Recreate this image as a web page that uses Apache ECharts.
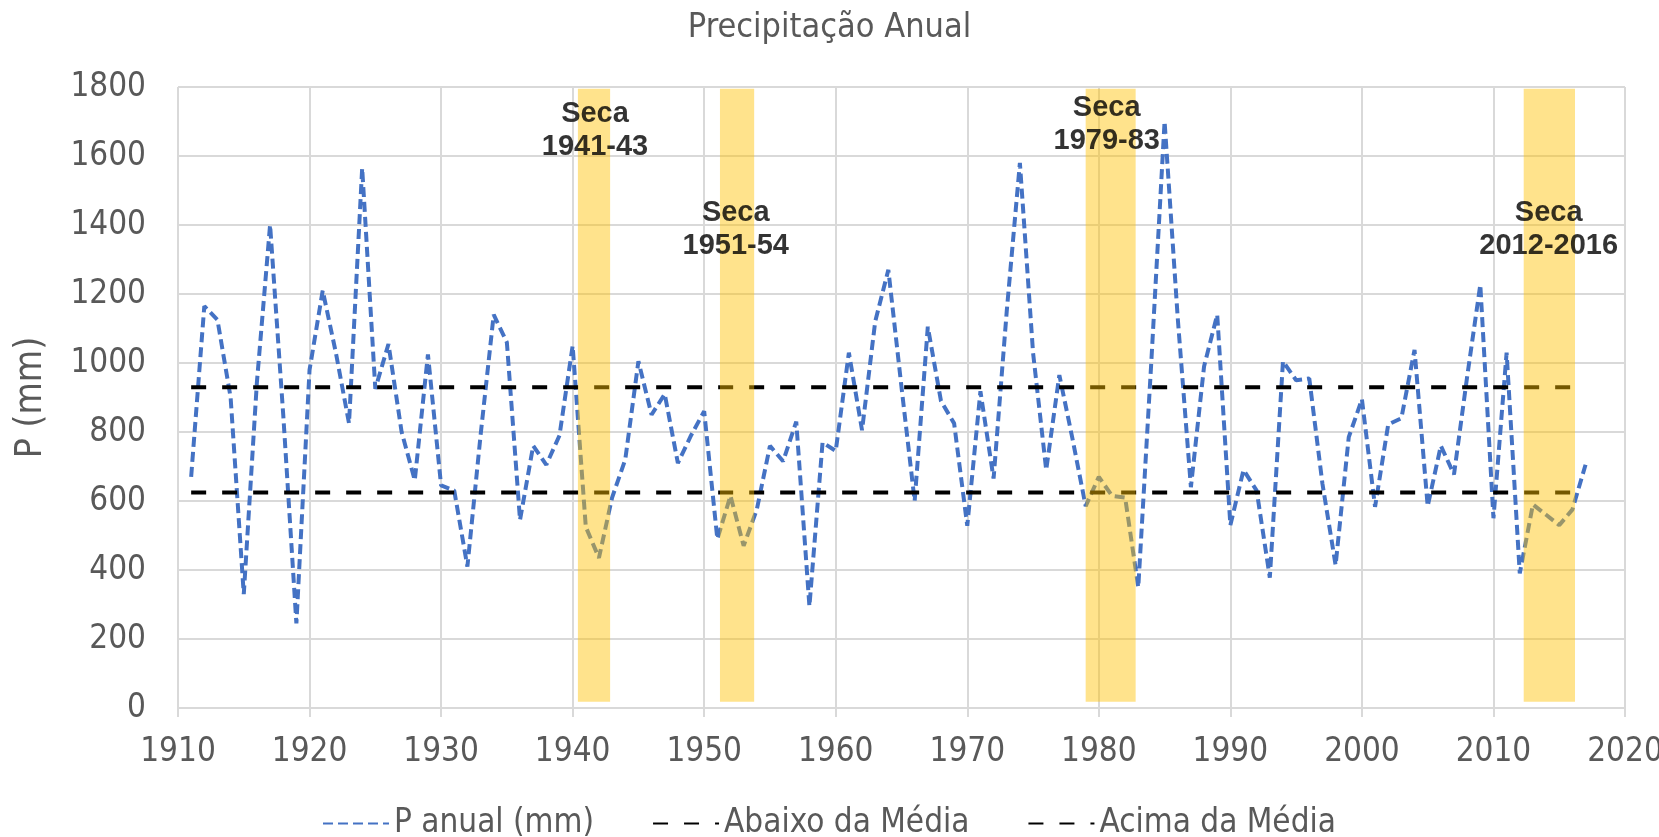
<!DOCTYPE html>
<html>
<head>
<meta charset="utf-8">
<script src="https://cdn.jsdelivr.net/npm/echarts@6/dist/echarts.min.js"></script>
<style>
  html, body { margin: 0; padding: 0; background: #fff; }
  #chart { width: 1659px; height: 837px; }
</style>
</head>
<body>
<div id="chart"></div>
<script>
// anos e precipitação anual (mm)
const anos = [
  1911, 1912, 1913, 1914, 1915, 1916, 1917, 1918, 1919, 1920,
  1921, 1922, 1923, 1924, 1925, 1926, 1927, 1928, 1929, 1930,
  1931, 1932, 1933, 1934, 1935, 1936, 1937, 1938, 1939, 1940,
  1941, 1942, 1943, 1944, 1945, 1946, 1947, 1948, 1949, 1950,
  1951, 1952, 1953, 1954, 1955, 1956, 1957, 1958, 1959, 1960,
  1961, 1962, 1963, 1964, 1965, 1966, 1967, 1968, 1969, 1970,
  1971, 1972, 1973, 1974, 1975, 1976, 1977, 1978, 1979, 1980,
  1981, 1982, 1983, 1984, 1985, 1986, 1987, 1988, 1989, 1990,
  1991, 1992, 1993, 1994, 1995, 1996, 1997, 1998, 1999, 2000,
  2001, 2002, 2003, 2004, 2005, 2006, 2007, 2008, 2009, 2010,
  2011, 2012, 2013, 2014, 2015, 2016, 2017
]
const pAnual = [
  670, 1165, 1125, 900, 330, 945, 1400, 850, 245, 980,
  1210, 1030, 825, 1565, 925, 1055, 800, 660, 1025, 645,
  630, 410, 790, 1140, 1060, 545, 760, 705, 790, 1050,
  525, 435, 610, 720, 1005, 850, 910, 710, 790, 860,
  490, 615, 470, 575, 760, 715, 830, 295, 770, 745,
  1030, 805, 1120, 1270, 930, 600, 1105, 890, 825, 528,
  918, 665, 1150, 1580, 1030, 690, 965, 780, 585, 670,
  615, 610, 350, 1010, 1700, 1130, 640, 990, 1140, 530,
  690, 630, 378, 1005, 950, 955, 650, 414, 785, 895,
  583, 822, 840, 1038, 585, 760, 677, 960, 1227, 550,
  1030, 390, 590, 560, 530, 575, 705
]

// limites abaixo / acima da média
const anosLimite = [1911, 2016]
const abaixoMedia = [625, 625]
const acimaMedia = [930, 930]

// períodos de seca (faixas)
const secaInicio = [1940.4, 1951.2, 1979.0, 2012.3]
const secaFim = [1942.85, 1953.8, 1982.8, 2016.2]
const faixaMin = 18
const faixaMax = 1795

// rótulos das secas
const secaTextos = ['Seca\n1941-43', 'Seca\n1951-54', 'Seca\n1979-83', 'Seca\n2012-2016']
const secaTextoX = [1941.7, 1952.4, 1980.6, 2014.2]
const secaTextoY = [1675, 1388, 1690, 1388]

const xTicks = { min: 1910, max: 2020, interval: 10 }
const yTicks = { min: 0, max: 1800, interval: 200 }

const fonteExcel = "'Liberation Sans Narrow', 'DejaVu Sans Condensed', 'Liberation Sans', sans-serif"
const cinza = '#595959'
const grade = '#d9d9d9'

const chart = echarts.init(document.getElementById('chart'))

const option = {
  animation: false,
  title: {
    text: 'Precipitação Anual',
    left: 'center',
    top: 6,
    textStyle: { fontFamily: fonteExcel, fontSize: 34, fontWeight: 'normal', color: cinza }
  },
  grid: { left: 178, right: 34, top: 87, bottom: 129, outerBoundsMode: 'none', containLabel: false },
  legend: {
    data: ['P anual (mm)', 'Abaixo da Média', 'Acima da Média'],
    top: 802,
    left: 317,
    itemWidth: 66,
    itemHeight: 14,
    itemGap: 58,
    itemStyle: { opacity: 0 },
    textStyle: { fontFamily: fonteExcel, fontSize: 33, color: cinza }
  },
  xAxis: {
    type: 'value',
    min: xTicks.min,
    max: xTicks.max,
    interval: xTicks.interval,
    axisLine: { lineStyle: { color: grade, width: 2 } },
    axisTick: { show: true, length: 9, lineStyle: { color: grade, width: 2 } },
    splitLine: { show: true, lineStyle: { color: grade, width: 2 } },
    axisLabel: { color: cinza, fontFamily: fonteExcel, fontSize: 33, margin: 28, formatter: v => String(v) }
  },
  yAxis: {
    type: 'value',
    min: yTicks.min,
    max: yTicks.max,
    interval: yTicks.interval,
    name: 'P (mm)',
    nameLocation: 'middle',
    nameGap: 128,
    nameTextStyle: { fontFamily: fonteExcel, fontSize: 37, color: cinza },
    axisLine: { show: false },
    axisTick: { show: false },
    splitLine: { lineStyle: { color: grade, width: 2 } },
    axisLabel: { color: cinza, fontFamily: fonteExcel, fontSize: 33, margin: 32, formatter: v => String(v) }
  },
  series: [
    {
      name: 'P anual (mm)',
      type: 'line',
      symbol: 'none',
      z: 3,
      data: anos.map((a, i) => [a, pAnual[i]]),
      lineStyle: { color: '#4472C4', width: 4, type: [10, 5] },
      itemStyle: { color: '#4472C4' }
    },
    {
      name: 'Abaixo da Média',
      type: 'line',
      symbol: 'none',
      z: 3,
      data: anosLimite.map((a, i) => [a, abaixoMedia[i]]),
      lineStyle: { color: '#000', width: 4, type: [15, 16] },
      itemStyle: { color: '#000' }
    },
    {
      name: 'Acima da Média',
      type: 'line',
      symbol: 'none',
      z: 3,
      data: anosLimite.map((a, i) => [a, acimaMedia[i]]),
      lineStyle: { color: '#000', width: 4, type: [15, 16] },
      itemStyle: { color: '#000' }
    },
    {
      name: 'Secas',
      type: 'line',
      data: [],
      z: 10,
      markArea: {
        silent: true,
        z: 10,
        itemStyle: { color: 'rgba(255,192,0,0.45)' },
        data: secaInicio.map((s, i) => [
          { coord: [s, faixaMin] },
          { coord: [secaFim[i], faixaMax] }
        ])
      }
    },
    {
      name: 'Rótulos',
      type: 'scatter',
      symbolSize: 0,
      z: 11,
      data: secaTextoX.map((x, i) => ({ value: [x, secaTextoY[i]], texto: secaTextos[i] })),
      label: {
        show: true,
        position: 'inside',
        formatter: p => p.data.texto,
        fontFamily: "'Liberation Sans', Arial, sans-serif",
        fontWeight: 'bold',
        fontSize: 29,
        lineHeight: 33,
        color: '#000',
        align: 'center',
        verticalAlign: 'middle'
      }
    }
  ]
}

chart.setOption(option)
</script>
</body>
</html>
